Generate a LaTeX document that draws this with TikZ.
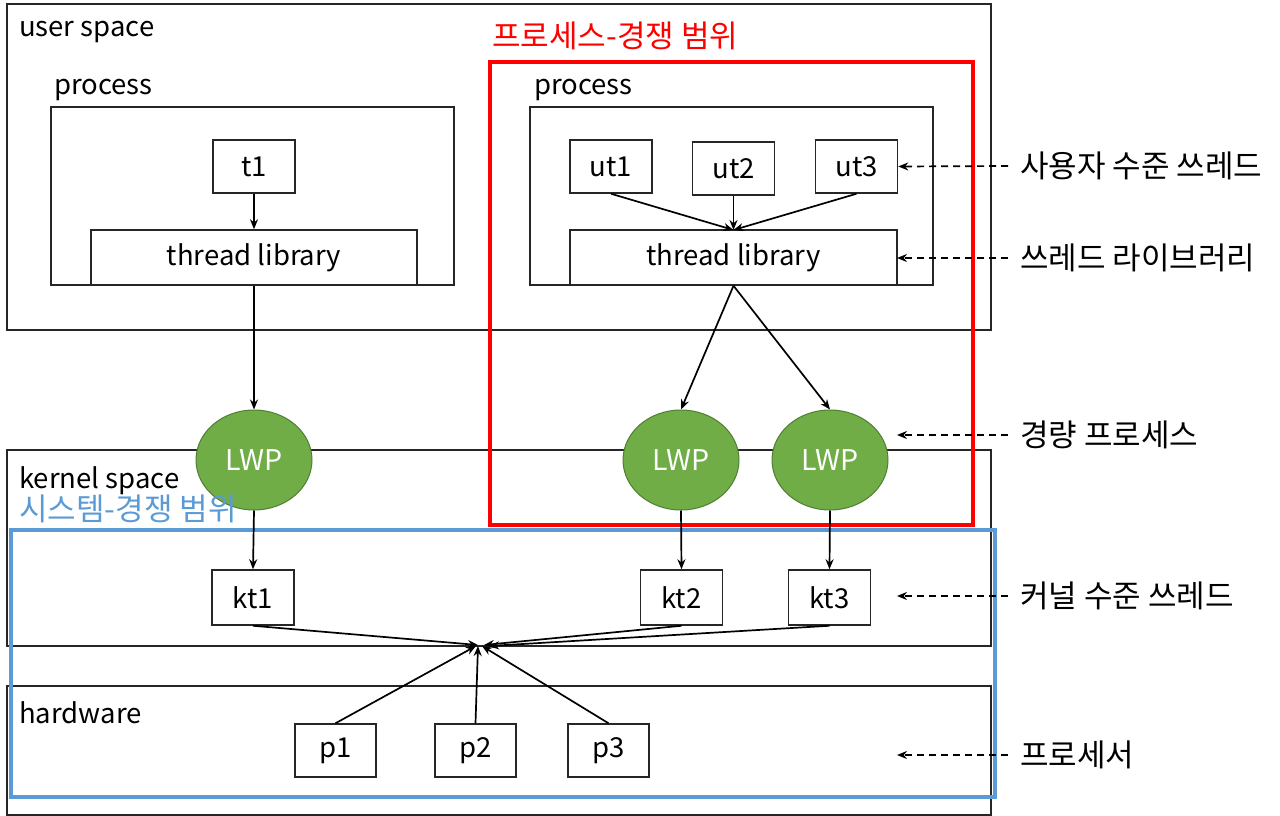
\documentclass[tikz,border=0pt]{standalone}
\usepackage{fontspec}
\setmainfont{Noto Sans CJK KR}
\usetikzlibrary{arrows.meta,shapes.geometric}
\definecolor{lwpgreen}{HTML}{70AD47}
\definecolor{lwpborder}{HTML}{507E32}
\definecolor{scopeblue}{HTML}{5B9BD5}
\definecolor{scopered}{HTML}{FF0000}
\begin{document}
\begin{tikzpicture}[x=1pt,y=-1pt,
  lbl/.style={font=\fontsize{27.5}{32}\selectfont, inner sep=0pt, anchor=base west},
  klbl/.style={font=\fontsize{31}{36}\selectfont, inner sep=0pt, anchor=west},
  area/.style={draw=black!85, line width=1.5pt, inner sep=0pt},
  tbox/.style={draw=black!85, line width=1.5pt, fill=white, inner sep=0pt, minimum width=82pt, minimum height=53pt, font=\fontsize{27.5}{32}\selectfont},
  libbox/.style={draw=black!85, line width=1.5pt, fill=white, inner sep=0pt, minimum width=327pt, minimum height=55pt, font=\fontsize{27.5}{32}\selectfont},
  lwp/.style={ellipse, draw=lwpborder, line width=1pt, fill=lwpgreen, minimum width=116pt, minimum height=100pt, inner sep=0pt, text=white, font=\fontsize{28.5}{32}\selectfont},
  conn/.style={line width=1.7pt, -{Stealth[length=10pt,width=8pt]}},
  dconn/.style={line width=1.7pt, dash pattern=on 7pt off 5pt, -{Stealth[length=10pt,width=8pt]}},
]
\useasboundingbox (0,0) rectangle (1280,816);
% big areas
\node[area, minimum width=984pt, minimum height=326pt] (user) at (499,167) {};
\node[area, minimum width=984pt, minimum height=196pt] (kernel) at (499,548) {};
\node[area, minimum width=984pt, minimum height=129pt] (hw) at (499,750.5) {};
\node[lbl] (userlbl) at (19,37) {user space};
\node[lbl] (kernellbl) at (19,488) {kernel space};
\node[lbl] (hwlbl) at (19,723) {hardware};

% processes
\node[area, minimum width=403pt, minimum height=178pt] (procL) at (252.5,196) {};
\node[area, minimum width=403pt, minimum height=178pt] (procR) at (731.5,196) {};
\node[lbl] (procLlbl) at (54,95) {process};
\node[lbl] (procRlbl) at (534,95) {process};

\node[tbox] (t1) at (254,166.5) {t1};
\node[libbox, minimum width=326pt] (tlL) at (254,257.5) {thread library};
\node[tbox] (ut1) at (611,166.5) {ut1};
\node[tbox] (ut2) at (733.5,168.5) {ut2};
\node[tbox] (ut3) at (856.5,166.5) {ut3};
\node[libbox] (tlR) at (733.5,257.5) {thread library};

% scope rectangles
\node[draw=scopered, line width=4pt, minimum width=483pt, minimum height=463pt, inner sep=0pt] (redscope) at (731.5,293.5) {};
\node[draw=scopeblue, line width=3.5pt, minimum width=984pt, minimum height=267pt, inner sep=0pt] (bluescope) at (503,663.5) {};
\node[klbl, text=scopered] (redlbl) at (492,36) {프로세스-경쟁 범위};

% LWPs
\node[lwp] (lwp1) at (254,460) {LWP};
\node[lwp] (lwp2) at (681,460) {LWP};
\node[lwp] (lwp3) at (830,460) {LWP};
\node[klbl, text=scopeblue] (bluelbl) at (19,509) {시스템-경쟁 범위};

% kernel threads
\node[tbox, minimum height=55pt] (kt1) at (253,597.5) {kt1};
\node[tbox, minimum height=55pt] (kt2) at (681.5,597.5) {kt2};
\node[tbox, minimum height=55pt] (kt3) at (829.5,597.5) {kt3};

% processors
\node[tbox, minimum width=81pt] (p1) at (335.5,750.5) {p1};
\node[tbox, minimum width=81pt] (p2) at (475.5,750.5) {p2};
\node[tbox, minimum width=81pt] (p3) at (608.5,750.5) {p3};

% convergence points
\coordinate (c1) at (478,645);
\coordinate (c2) at (484,645);
\coordinate (c3) at (489,646);
\coordinate (d1) at (476,646);
\coordinate (d2) at (478,646);
\coordinate (d3) at (482,646);
\coordinate (tlin) at (733.5,230);

% connectors
\draw[conn] (t1.south) -- (tlL.north);
\draw[conn] (ut1.south) -- (tlin);
\draw[conn] (ut2.south) -- (tlin);
\draw[conn] (ut3.south) -- (tlin);
\draw[conn] (tlL.south) -- (lwp1.north);
\draw[conn] (tlR.south) -- (lwp2.north);
\draw[conn] (tlR.south) -- (lwp3.north);
\draw[conn] (lwp1.south) -- (kt1.north);
\draw[conn] (lwp2.south) -- (kt2.north);
\draw[conn] (lwp3.south) -- (kt3.north);
\draw[conn] (kt1.south) -- (c1);
\draw[conn] (kt2.south) -- (c2);
\draw[conn] (kt3.south) -- (c3);
\draw[conn] (p1.north) -- (d1);
\draw[conn] (p2.north) -- (d2);
\draw[conn] (p3.north) -- (d3);

% right side labels
\node[klbl] (l1) at (1020,166) {사용자 수준 쓰레드};
\node[klbl] (l2) at (1020,258) {쓰레드 라이브러리};
\node[klbl] (l3) at (1020,435) {경량 프로세스};
\node[klbl] (l4) at (1020,596) {커널 수준 쓰레드};
\node[klbl] (l5) at (1020,755) {프로세서};
\coordinate (a2) at (897,258);
\coordinate (a3) at (897,435);
\coordinate (a4) at (897,596);
\coordinate (a5) at (897,755);
\draw[dconn] ([xshift=-12pt]l1.west) -- (ut3.east);
\draw[dconn] ([xshift=-12pt]l2.west) -- (a2);
\draw[dconn] ([xshift=-12pt]l3.west) -- (a3);
\draw[dconn] ([xshift=-12pt]l4.west) -- (a4);
\draw[dconn] ([xshift=-12pt]l5.west) -- (a5);
\end{tikzpicture}
\end{document}
